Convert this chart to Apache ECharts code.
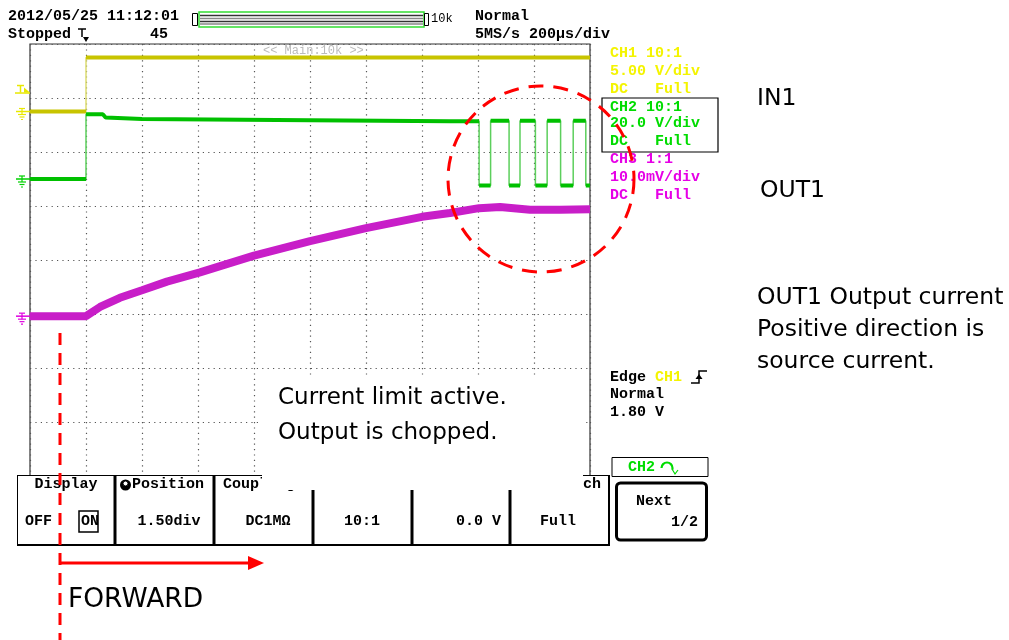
<!DOCTYPE html>
<html><head><meta charset="utf-8">
<script src="https://cdn.jsdelivr.net/npm/echarts@6/dist/echarts.min.js"></script>
<style>html,body{margin:0;padding:0;background:#fff}#c{width:1009px;height:640px}</style>
</head><body><div id="c"></div>
<script>
// Time axis in microseconds (200 us/div, trigger at 0), vertical axis in screen divisions
const xMin = -200, xMax = 1800, xStep = 200;
const yMin = -4, yMax = 4, yStep = 1;

// CH1 (IN1, yellow)
const ch1Time = [-200, 0, 0, 1800];
const ch1Div  = [2.75, 2.75, 3.75, 3.75];

// CH2 (OUT1, green) – chopping after ~1.4 ms
const ch2Time = [-200, 0, 0, 60, 70, 200, 800, 1300, 1404, 1404, 1445, 1445, 1511, 1511, 1550, 1550, 1605, 1605, 1647, 1647, 1695, 1695, 1740, 1740, 1785, 1785, 1800];
const ch2Div  = [1.5, 1.5, 2.70, 2.70, 2.64, 2.61, 2.59, 2.57, 2.57, 1.38, 1.38, 2.58, 2.58, 1.38, 1.38, 2.58, 2.58, 1.38, 1.38, 2.58, 2.58, 1.38, 1.38, 2.58, 2.58, 1.38, 1.38];

// CH3 (OUT1 current, magenta)
const ch3Time = [-200, 0, 50, 121, 200, 289, 407, 600, 800, 1000, 1200, 1300, 1404, 1479, 1586, 1693, 1800];
const ch3Div  = [-1.04, -1.04, -0.87, -0.70, -0.56, -0.40, -0.23, 0.08, 0.35, 0.59, 0.80, 0.87, 0.96, 0.98, 0.93, 0.93, 0.94];

// channel reference markers (divisions)
const gndCh1 = 2.75, gndCh2 = 1.5, gndCh3 = -1.04, trigLevel = 3.12;

function pairs(t, v){ return t.map((x,i)=>[x, v[i]]); }
function flatSegs(t, v){
  const out = [];
  for (let i=0;i<t.length;i++){
    if (i>0 && t[i]===t[i-1]) out.push([t[i], '-']);
    out.push([t[i], v[i]]);
  }
  return out;
}

const chart = echarts.init(document.getElementById('c'), null, {renderer:'canvas'});
const MONO = '"Liberation Mono", "DejaVu Sans Mono", monospace';
const SANS = '"DejaVu Sans", Verdana, sans-serif';

chart.setOption({
  animation:false,
  backgroundColor:'#fff',
  grid:{left:30, top:44, width:560, height:432, show:true, borderColor:'#333', borderWidth:1.2, backgroundColor:'#fff'},
  xAxis:{type:'value', min:xMin, max:xMax, interval:xStep,
    axisLabel:{show:false}, axisTick:{show:false}, axisLine:{show:false},
    splitLine:{show:true, lineStyle:{color:'#555', width:1.2, type:[1.2,4.2]}}},
  yAxis:{type:'value', min:yMin, max:yMax, interval:yStep,
    axisLabel:{show:false}, axisTick:{show:false}, axisLine:{show:false},
    splitLine:{show:true, lineStyle:{color:'#555', width:1.2, type:[1.2,4.2]}}},
  series:[
    {type:'line', data:pairs(ch1Time, ch1Div), symbol:'none', lineStyle:{color:'#dcdc70', width:1.5}, z:3},
    {type:'line', data:flatSegs(ch1Time, ch1Div), symbol:'none', connectNulls:false, lineStyle:{color:'#c8c400', width:4}, z:4},
    {type:'line', data:pairs(ch2Time, ch2Div), symbol:'none', lineStyle:{color:'#5ccf5c', width:1.5}, z:5},
    {type:'line', data:flatSegs(ch2Time, ch2Div), symbol:'none', connectNulls:false, lineStyle:{color:'#00c000', width:4}, z:6},
    {type:'line', data:pairs(ch3Time, ch3Div), symbol:'none', lineStyle:{color:'#c81ec8', width:8}, z:7}
  ]
});

function T(x,y,text,fill,font,align,z){
  return {type:'text', x:x, y:y, z:z||60, style:{text:text, fill:fill, font:font, align:align||'left', verticalAlign:'middle', textAlign:align||'left', textVerticalAlign:'middle'}};
}
function L(x1,y1,x2,y2,stroke,w,z,dash){
  return {type:'line', z:z||60, shape:{x1:x1,y1:y1,x2:x2,y2:y2}, style:{stroke:stroke, lineWidth:w, lineDash:dash||null}};
}
function R(x,y,w,h,stroke,fill,lw,z,r){
  return {type:'rect', z:z||60, shape:{x:x,y:y,width:w,height:h,r:r||0}, style:{stroke:stroke||null, fill:fill||null, lineWidth:lw||1}};
}
function P(points, fill, z){
  return {type:'polygon', z:z||60, shape:{points:points}, style:{fill:fill}};
}

const g = [];
const F15 = 'bold 15px ' + MONO;
// header
g.push(T(8,16,'2012/05/25 11:12:01','#000',F15));
g.push(T(8,34,'Stopped','#000',F15));
g.push(L(78,29,86,29,'#000',1.5)); g.push(L(82,29,82,37,'#000',1.5));
g.push(P([[83,37],[89,37],[86,42]],'#000'));
g.push(T(150,34,'45','#000',F15));
g.push(R(192.5,13.5,5,12,'#000',null,1));
g.push(R(199,12,225,15,'#33dd33',null,1.5));
[15.5,18.5,21.5,24].forEach((y,i)=>g.push(L(200,y,423,y,i%2?'#888':'#333',1.3)));
g.push(R(424.5,13.5,4,12,'#000',null,1));
g.push(T(431,19,'10k','#000','12px ' + MONO));
g.push(T(475,16,'Normal','#000',F15));
g.push(T(475,34,'5MS/s 200\u00b5s/div','#000',F15));
g.push(T(263,51,'<< Main:10k >>','#bbb','12px ' + MONO));

// channel panel
const Y='#f4f400', G='#00dc00', M='#e600e6';
g.push(T(610,53,'CH1 10:1',Y,F15));
g.push(T(610,71,'5.00 V/div',Y,F15));
g.push(T(610,89,'DC   Full',Y,F15));
g.push(R(602,98,116,54,'#000',null,1.2));
g.push(T(610,107,'CH2 10:1',G,F15));
g.push(T(610,123,'20.0 V/div',G,F15));
g.push(T(610,141,'DC   Full',G,F15));
g.push(T(610,159,'CH3 1:1',M,F15));
g.push(T(610,177,'10.0mV/div',M,F15));
g.push(T(610,195,'DC   Full',M,F15));

// trigger panel
g.push(T(610,377,'Edge','#000',F15));
g.push(T(655,377,'CH1',Y,F15));
g.push({type:'polyline', z:60, shape:{points:[[691,383],[699,383],[699,371],[707,371]]}, style:{stroke:'#000', lineWidth:1.5, fill:null}});
g.push(P([[695.5,379],[702.5,379],[699,374]],'#000'));
g.push(T(610,394,'Normal','#000',F15));
g.push(T(610,412,'1.80 V','#000',F15));

// CH2 small box
g.push(R(612,457.5,96,19,'#000','#fff',1,41));
g.push(T(628,467,'CH2',G,F15,'left',42));
g.push({type:'arc', z:42, shape:{cx:667,cy:468,r:5.5,startAngle:Math.PI,endAngle:Math.PI*2.1}, style:{stroke:G, lineWidth:2.2, fill:null}});
g.push({type:'polyline', z:42, shape:{points:[[672,469],[675,474],[678,470]]}, style:{stroke:G, lineWidth:1.2, fill:null}});

// bottom menu
g.push(R(17,475.5,592,70,null,'#fff',1,40));
g.push(L(17,475.5,609,475.5,'#000',1.2,41));
g.push(L(17,545,609,545,'#000',2,41));
g.push(L(17.5,475,17.5,546,'#000',1,41));
[115,214,313,412,510].forEach(x=>g.push(L(x,475,x,546,'#000',3,41)));
g.push(L(609,475,609,546,'#000',2,41));
g.push(T(66,484,'Display','#000',F15,'center',42));
g.push({type:'circle', z:42, shape:{cx:125.5,cy:485,r:5.5}, style:{fill:'#000'}});
g.push({type:'circle', z:43, shape:{cx:125.5,cy:483.5,r:2.5}, style:{fill:'#fff', stroke:'#000', lineWidth:1}});
g.push(T(132,484,'Position','#000',F15,'left',42));
g.push(T(223,484,'Coupling','#000',F15,'left',42));
g.push(T(583,484,'ch','#000',F15,'left',42));
g.push(T(25,521,'OFF','#000',F15,'left',42));
g.push(T(81,521,'ON','#000',F15,'left',42));
g.push(R(79,511,19,21,'#000',null,1.5,42));
g.push(T(169,521,'1.50div','#000',F15,'center',42));
g.push(T(268,521,'DC1M\u03a9','#000',F15,'center',42));
g.push(T(362,521,'10:1','#000',F15,'center',42));
g.push(T(501,521,'0.0 V','#000',F15,'right',42));
g.push(T(558,521,'Full','#000',F15,'center',42));
// Next button
g.push(R(616.5,483,90,57,'#000','#fff',3,42,4));
g.push(T(636,501,'Next','#000',F15,'left',43));
g.push(T(698,522,'1/2','#000',F15,'right',43));

// annotation white box and texts
g.push(R(262,378,321,112,null,'#fff',1,45));
g.push(T(278,398,'Current limit active.','#000','23px ' + SANS,'left',60));
g.push(T(278,433,'Output is chopped.','#000','23px ' + SANS,'left',60));
g.push(T(757,99,'IN1','#000','23.5px ' + SANS));
g.push(T(760,191,'OUT1','#000','23.5px ' + SANS));
g.push(T(757,298,'OUT1 Output current','#000','23.5px ' + SANS));
g.push(T(757,330,'Positive direction is','#000','23.5px ' + SANS));
g.push(T(757,362,'source current.','#000','23.5px ' + SANS));
g.push(T(68,600,'FORWARD','#000','26.5px ' + SANS));

// red annotations
g.push({type:'circle', z:70, shape:{cx:541,cy:179,r:93}, style:{stroke:'#ff0000', lineWidth:3, fill:null, lineDash:[15,10]}});
g.push(L(60,333,60,640,'#ff0000',3,70,[12,8]));
g.push(L(60,563,250,563,'#ff0000',3,70));
g.push(P([[248,556],[264,563],[248,570]],'#ff0000',70));

// channel ground / trigger-level markers placed through the chart's scale
function yPix(v){ return chart.convertToPixel({gridIndex:0}, [xMin, v])[1]; }
function ground(y, c){
  g.push(L(16,y,30,y,c,1.5,55));
  g.push(L(19,y-3,25,y-3,c,1.2,55));
  g.push(L(22,y-3,22,y+3,c,1.2,55));
  g.push(L(18,y+3,26,y+3,c,1.2,55));
  g.push(L(19.5,y+5.5,24.5,y+5.5,c,1.2,55));
  g.push(L(21,y+8,23,y+8,c,1.2,55));
}
ground(yPix(gndCh1), '#e8e800');
ground(yPix(gndCh2), '#00d000');
ground(yPix(gndCh3), '#e000e0');
const ty = yPix(trigLevel);
g.push(L(17,ty-6,24,ty-6,'#e8e800',1.5,55));
g.push(L(20.5,ty-6,20.5,ty+1,'#e8e800',1.5,55));
g.push(L(15,ty+1.5,30,ty+1.5,'#e8e800',1.5,55));
g.push(P([[24,ty-4],[30,ty+1],[24,ty+1]],'#e8e800',55));

chart.setOption({graphic:{elements:g}});
</script>
</body></html>
